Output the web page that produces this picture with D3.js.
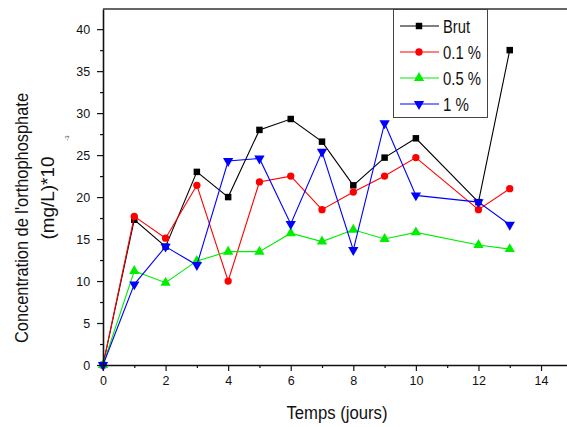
<!DOCTYPE html>
<html>
<head>
<meta charset="utf-8">
<script src="https://cdn.jsdelivr.net/npm/d3@7"></script>
<style>
  html, body { margin: 0; padding: 0; background: #fff; }
  svg { display: block; font-family: "Liberation Sans", Arial, sans-serif; }
</style>
</head>
<body>
<svg id="chart" width="567" height="427"></svg>
<script>
// Sampling days
const days = [0, 1, 2, 3, 4, 5, 6, 7, 8, 9, 10, 12, 13];

// Orthophosphate concentration, (mg/L)*10^-3
const brut   = [0, 17.3, 14.1, 23.0, 20.0, 28.0, 29.3, 26.6, 21.4, 24.7, 27.0, 19.4, 37.5];
const pct01  = [0, 17.7, 15.1, 21.4, 10.0, 21.8, 22.5, 18.5, 20.6, 22.5, 24.7, 18.5, 21.0];
const pct05  = [0, 11.2,  9.8, 12.4, 13.5, 13.5, 15.7, 14.7, 16.1, 15.0, 15.8, 14.3, 13.8];
const pct1   = [0,  9.6, 14.1, 11.9, 24.3, 24.6, 16.8, 25.4, 13.7, 28.8, 20.2, 19.4, 16.7];

const seriesNames = ["Brut", "0.1 %", "0.5 %", "1 %"];
const seriesValues = [brut, pct01, pct05, pct1];

const xTicks = [0, 2, 4, 6, 8, 10, 12, 14];
const yTicks = [0, 5, 10, 15, 20, 25, 30, 35, 40];

const styles = [
  { color: "#000000", symbol: d3.symbolSquare,   size: 42, rot: 0 },
  { color: "#ff0000", symbol: d3.symbolCircle,   size: 42, rot: 0 },
  { color: "#00ee00", symbol: d3.symbolTriangle, size: 46, rot: 0 },
  { color: "#0000ff", symbol: d3.symbolTriangle, size: 46, rot: 180 }
];

const svg = d3.select("#chart");

const x = d3.scaleLinear().domain([0, 14.83]).range([103, 567]);
const y = d3.scaleLinear().domain([0, 42.4]).range([365, 9]);

// Series lines and markers
const line = d3.line().x((d, i) => x(days[i])).y(d => y(d));

seriesValues.forEach((vals, s) => {
  const st = styles[s];
  const g = svg.append("g");
  g.append("path")
    .datum(vals)
    .attr("fill", "none")
    .attr("stroke", st.color)
    .attr("stroke-width", 1.1)
    .attr("d", line);
  g.selectAll("path.m")
    .data(vals)
    .join("path")
    .attr("class", "m")
    .attr("d", d3.symbol().type(st.symbol).size(st.size))
    .attr("fill", st.color)
    .attr("transform", (d, i) => `translate(${x(days[i])},${y(d)}) rotate(${st.rot})`);
});

// Axes
const xMinor = d3.range(1, 15, 2);
const yMinor = d3.range(2.5, 42, 5);

const xAxis = svg.append("g").attr("transform", `translate(0,${y(0)})`)
  .call(d3.axisBottom(x).tickValues(xTicks).tickFormat(d3.format("d")).tickSize(6).tickSizeOuter(0));
svg.append("g").attr("transform", `translate(0,${y(0)})`)
  .call(d3.axisBottom(x).tickValues(xMinor).tickFormat("").tickSize(3).tickSizeOuter(0))
  .select(".domain").remove();

const yAxis = svg.append("g").attr("transform", `translate(${x(0)},0)`)
  .call(d3.axisLeft(y).tickValues(yTicks).tickFormat(d3.format("d")).tickSize(6).tickSizeOuter(0));
svg.append("g").attr("transform", `translate(${x(0)},0)`)
  .call(d3.axisLeft(y).tickValues(yMinor).tickFormat("").tickSize(3).tickSizeOuter(0))
  .select(".domain").remove();

svg.selectAll(".domain").attr("stroke", "#111").attr("stroke-width", 1.6);
svg.selectAll(".tick line").attr("stroke", "#111").attr("stroke-width", 1.2);
xAxis.selectAll(".tick text").attr("font-size", 12.5).attr("fill", "#111").attr("dy", "0.9em");
yAxis.selectAll(".tick text").attr("font-size", 12.5).attr("fill", "#111").attr("dx", "-0.3em");

// Top frame line
svg.append("line")
  .attr("x1", x(0)).attr("x2", 567)
  .attr("y1", y(42.4)).attr("y2", y(42.4))
  .attr("stroke", "#333").attr("stroke-width", 1.6);

// Axis titles
svg.append("text")
  .attr("x", 337).attr("y", 419)
  .attr("text-anchor", "middle")
  .attr("font-size", 17.5)
  .attr("textLength", 101).attr("lengthAdjust", "spacingAndGlyphs")
  .attr("fill", "#111")
  .text("Temps (jours)");

svg.append("text")
  .attr("transform", "translate(28,218) rotate(-90)")
  .attr("text-anchor", "middle")
  .attr("font-size", 19)
  .attr("textLength", 250).attr("lengthAdjust", "spacingAndGlyphs")
  .attr("fill", "#111")
  .text("Concentration de l'orthophosphate");

svg.append("text")
  .attr("transform", "translate(54,198) rotate(-90)")
  .attr("text-anchor", "middle")
  .attr("font-size", 19)
  .attr("textLength", 83).attr("lengthAdjust", "spacingAndGlyphs")
  .attr("fill", "#111")
  .text("(mg/L)*10");

svg.append("text")
  .attr("transform", "translate(69,138) rotate(-90)")
  .attr("text-anchor", "middle")
  .attr("font-size", 6)
  .attr("fill", "#333")
  .text("-3");

// Legend
const legend = svg.append("g");
legend.append("rect")
  .attr("x", 393.5).attr("y", 9.5)
  .attr("width", 94).attr("height", 108)
  .attr("fill", "#fff").attr("stroke", "#444").attr("stroke-width", 1);

const legendY = [26, 52, 78, 104];
seriesNames.forEach((name, s) => {
  const st = styles[s];
  const gy = legendY[s];
  legend.append("line")
    .attr("x1", 400).attr("x2", 439)
    .attr("y1", gy).attr("y2", gy)
    .attr("stroke", st.color).attr("stroke-width", 1.1);
  legend.append("path")
    .attr("d", d3.symbol().type(st.symbol).size(st.size)())
    .attr("fill", st.color)
    .attr("transform", `translate(419,${gy}) rotate(${st.rot})`);
  legend.append("text")
    .attr("x", 443).attr("y", gy + 6.5)
    .attr("font-size", 18)
    .attr("textLength", name === "Brut" ? 27 : (name === "1 %" ? 26 : 38))
    .attr("lengthAdjust", "spacingAndGlyphs")
    .attr("fill", "#111")
    .text(name);
});
</script>
</body>
</html>
